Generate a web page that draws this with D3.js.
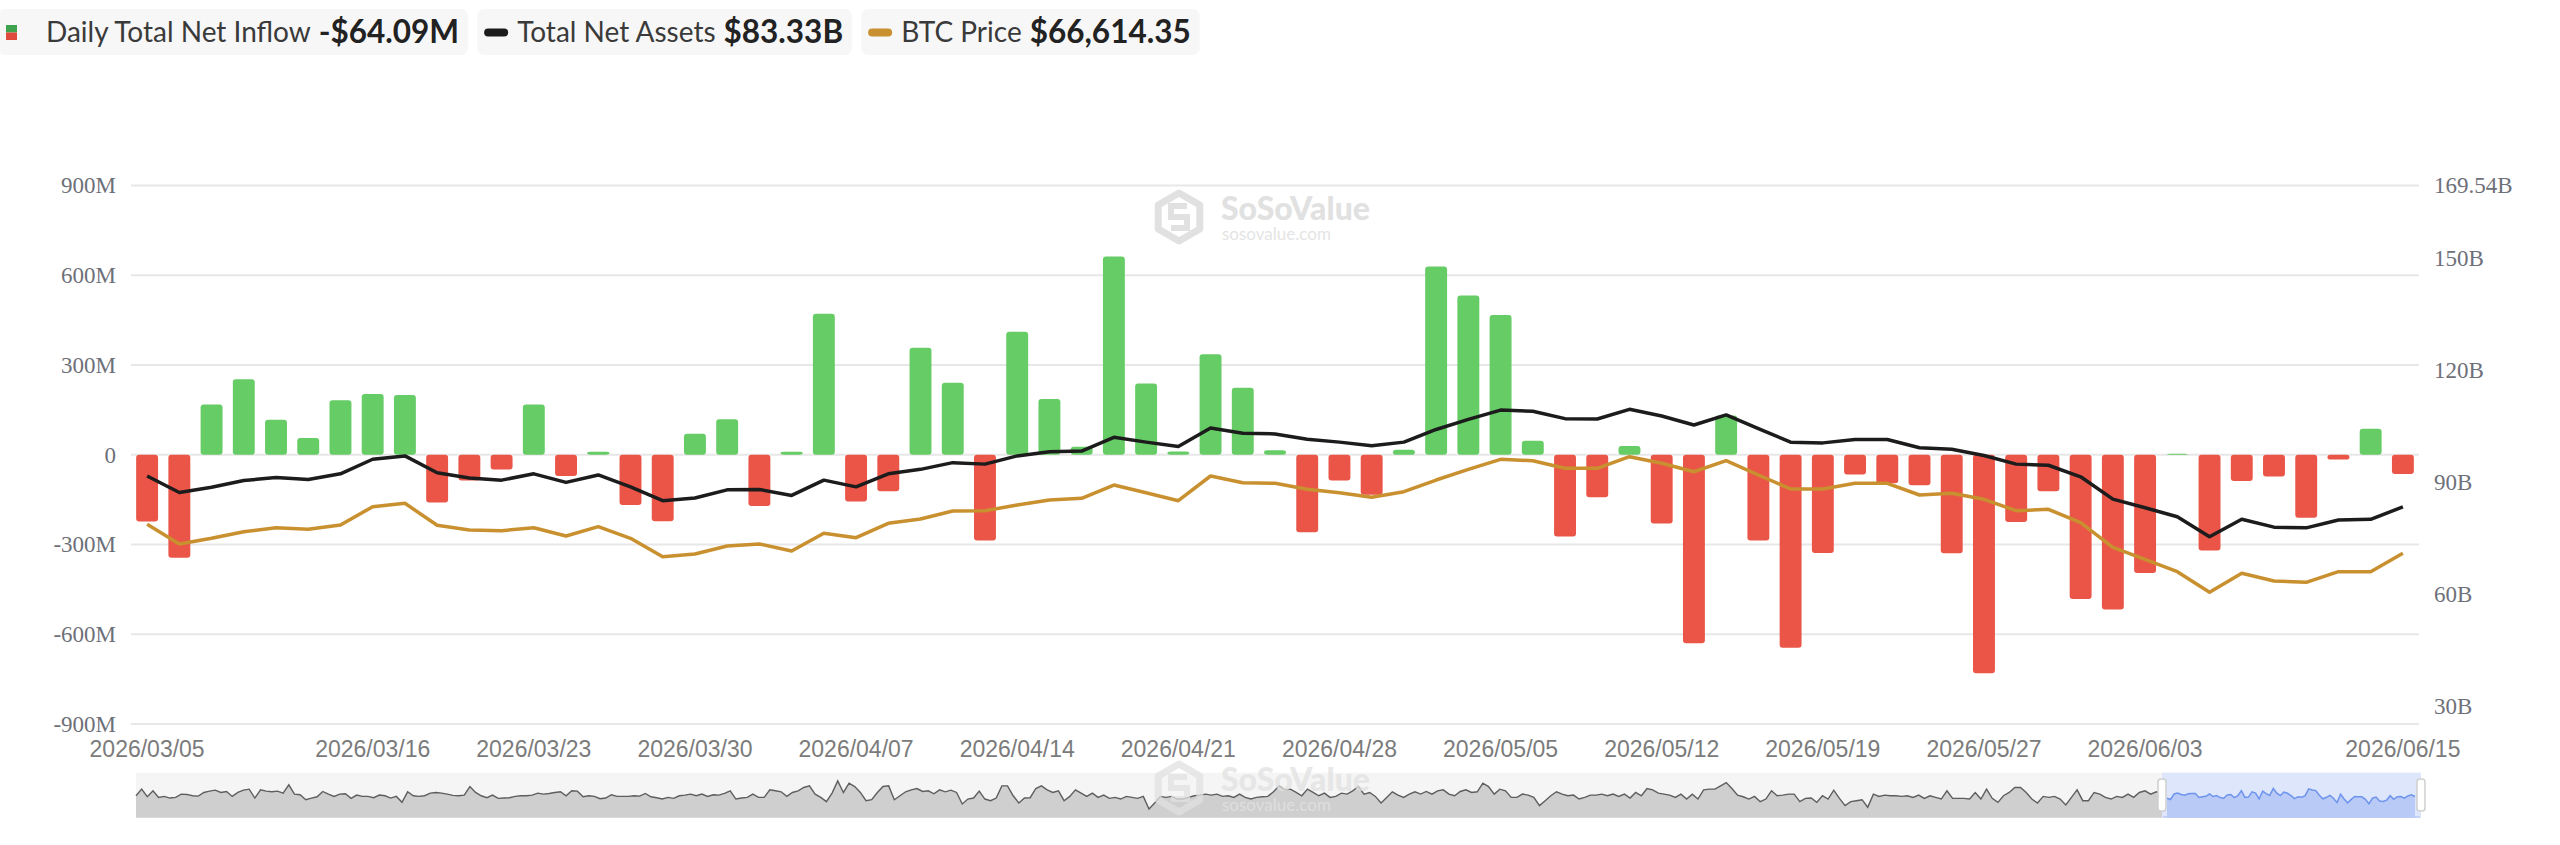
<!DOCTYPE html>
<html>
<head>
<meta charset="utf-8">
<script src="https://cdn.jsdelivr.net/npm/d3@7/dist/d3.min.js"></script>
<style>
html, body { margin: 0; padding: 0; background: #fff; }
svg { display: block; }
</style>
</head>
<body>
<script>
// ---- data ----
var dates = ["2026/03/05","2026/03/06","2026/03/09","2026/03/10","2026/03/11","2026/03/12","2026/03/13","2026/03/16","2026/03/17","2026/03/18",
  "2026/03/19","2026/03/20","2026/03/23","2026/03/24","2026/03/25","2026/03/26","2026/03/27","2026/03/30","2026/03/31","2026/04/01",
  "2026/04/02","2026/04/06","2026/04/07","2026/04/08","2026/04/09","2026/04/10","2026/04/13","2026/04/14","2026/04/15","2026/04/16",
  "2026/04/17","2026/04/20","2026/04/21","2026/04/22","2026/04/23","2026/04/24","2026/04/27","2026/04/28","2026/04/29","2026/04/30",
  "2026/05/01","2026/05/04","2026/05/05","2026/05/06","2026/05/07","2026/05/08","2026/05/11","2026/05/12","2026/05/13","2026/05/14",
  "2026/05/15","2026/05/18","2026/05/19","2026/05/20","2026/05/21","2026/05/22","2026/05/26","2026/05/27","2026/05/28","2026/05/29",
  "2026/06/01","2026/06/02","2026/06/03","2026/06/04","2026/06/05","2026/06/08","2026/06/09","2026/06/10","2026/06/11","2026/06/12",
  "2026/06/15"];

// daily total net inflow, million USD
var netInflow = [-223,-344,168,252,117,56,182,203,200,-160,
  -86,-49,168,-71,10,-168,-222,70,119,-171,
  10,471,-156,-122,358,241,-287,411,186,27,
  663,238,11,336,224,15,-259,-86,-134,17,
  629,532,467,47,-273,-142,29,-230,-630,131,
  -287,-645,-328,-66,-95,-102,-329,-730,-225,-122,
  -482,-517,-395,3,-320,-88,-73,-211,-16,87,
  -64.09];

// total net assets, billion USD
var netAssets = [91.6,87.2,88.6,90.4,91.2,90.7,92.2,96.1,97.0,92.5,
  91.1,90.5,92.2,89.9,91.9,88.7,85.0,85.7,87.9,88.0,
  86.4,90.5,88.7,92.2,93.4,95.2,94.8,97.0,98.1,98.3,
  102.0,100.7,99.5,104.5,103.1,102.9,101.5,100.7,99.7,100.7,
  104.1,106.8,109.3,109.0,107.0,106.9,109.5,107.7,105.3,108.0,
  104.3,100.7,100.5,101.4,101.4,99.2,98.8,97.1,94.8,94.5,
  91.4,85.4,83.1,80.7,75.3,80.0,77.9,77.7,79.8,80.0,
  83.33];

// BTC price, USD
var btcPrice = [72830,68610,69830,71250,72100,71760,72680,76610,77340,72620,
  71610,71460,72100,70320,72320,69830,65880,66460,68180,68610,
  67100,70900,69960,73050,73970,75680,75750,76970,78040,78410,
  81260,79610,77890,83190,81750,81630,80340,79610,78620,79820,
  82330,84630,86770,86470,84840,84840,87330,85920,84110,86470,
  83410,80400,80400,81630,81630,79120,79480,78190,75750,76050,
  73180,67900,65330,62670,58250,62320,60670,60390,62670,62670,
  66614.35];

// earlier net inflow history shown in the range slider, million USD (sampled)
var sliderHistory = [0,600,-90,450,-150,-60,-210,-150,150,120,0,-30,300,420,510,300,390,-60,300,510,600,-210,540,420,360,420,240,990,150,90,
  -360,-210,-90,390,150,-60,150,180,-240,60,-60,-60,-180,60,0,-210,-60,-600,360,0,-60,0,240,300,240,150,30,0,60,840,
  300,0,-180,60,-240,-210,-180,-60,0,0,60,240,150,210,300,360,0,450,420,-90,0,-60,-270,-210,90,-60,-60,-60,0,-30,
  210,-90,-180,-300,-150,-240,0,60,150,0,150,-60,90,60,210,450,-300,-210,-150,150,-150,-150,540,450,360,-60,300,450,750,
  900,150,-150,-540,240,1350,300,1140,840,300,-450,-360,300,840,900,-360,0,360,540,660,390,450,180,540,360,510,300,-750,-300,-210,
  420,-300,-450,-210,900,900,0,-660,-210,-180,660,900,540,300,450,-450,-60,540,240,-60,240,-150,60,-240,-150,-300,-60,-150,-240,-60,
  -1200,-660,-60,-150,-60,-300,-300,-150,0,60,150,60,150,-60,0,-150,150,-150,-300,-150,-90,-60,360,900,540,600,300,0,600,300,
  0,240,-150,-60,240,150,450,840,150,300,-60,-660,-150,360,60,-150,150,360,150,390,150,450,540,150,0,390,540,300,360,1140,
  840,150,600,450,-150,-150,150,60,-150,-900,-450,0,360,150,0,60,-300,-150,60,
  60,150,0,150,-60,150,-210,300,0,660,540,240,150,60,-150,150,-300,150,-300,540,600,600,900,1200,660,60,-90,-300,-60,-540,
  -300,450,0,60,150,150,-540,-240,-210,-600,0,-300,510,-240,-900,-540,-450,-360,-1050,150,-60,60,0,0,-60,0,-150,60,-240,0,
  -150,-300,450,-240,-240,-240,-300,300,-300,600,-240,-600,0,300,750,750,300,-300,-660,-60,-150,-60,-300,-840,-150,540,-450,-450,300,150,
  -150,-300,-60,-150,150,-150,300,450,150,360,240];

var leftTicks = [-900, -600, -300, 0, 300, 600, 900];
var rightTicks = [30, 60, 90, 120, 150, 169.54];
var dateTicks = ["2026/03/05","2026/03/16","2026/03/23","2026/03/30","2026/04/07","2026/04/14","2026/04/21",
  "2026/04/28","2026/05/05","2026/05/12","2026/05/19","2026/05/27","2026/06/03","2026/06/15"];

// ---- layout ----
var W = 2560, H = 845;
var plot = { left: 131, right: 2419, top: 185.5, bottom: 724 };
var green = "#66cc66", red = "#ea5548", black = "#1c1c1c", gold = "#c9902f";
var serif = "'Liberation Serif', 'Times New Roman', serif";
var sans = "'Liberation Sans', Arial, sans-serif";
var lato = "Lato, 'Noto Sans', sans-serif";

var svg = d3.select("body").append("svg").attr("width", W).attr("height", H);

var x = d3.scaleBand().domain(dates).range([plot.left, plot.right]);
var cx = function(d){ return x(d) + x.bandwidth() / 2; };
var barW = x.bandwidth() * 0.68;

var yLeft = d3.scaleLinear().domain([-900, 900]).range([plot.bottom, plot.top]);
var yRight = d3.scaleLinear().domain([25.09, 169.54]).range([plot.bottom, plot.top]);
var yBtc = d3.scaleLinear().domain([30000, 145500]).range([plot.bottom, plot.top]); // hidden axis

// gridlines
svg.append("g").selectAll("line")
  .data(leftTicks)
  .enter()
  .append("line")
  .attr("x1", plot.left).attr("x2", plot.right)
  .attr("y1", function(d){ return yLeft(d); })
  .attr("y2", function(d){ return yLeft(d); })
  .attr("stroke", "#e7e7e7")
  .attr("stroke-width", 2);

// watermark
function watermark(g, x0, y0, op) {
  var w = g.append("g").attr("opacity", op);
  var c = [x0 + 19, y0 + 25], r = 24;
  var hex = d3.range(6).map(function(k){
    var a = (-90 + 60 * k) * Math.PI / 180;
    return [c[0] + r * Math.cos(a), c[1] + r * Math.sin(a)];
  });
  w.append("polygon").attr("points", hex.join(" "))
    .attr("fill", "none").attr("stroke", "#e1e1e1").attr("stroke-width", 7).attr("stroke-linejoin", "round");
  w.append("path")
    .attr("d", "M" + (c[0] + 8) + "," + (c[1] - 11) + " L" + (c[0] - 8) + "," + (c[1] - 11) +
      " L" + (c[0] - 8) + "," + (c[1]) + " L" + (c[0] + 8) + "," + (c[1]) +
      " L" + (c[0] + 8) + "," + (c[1] + 11) + " L" + (c[0] - 8) + "," + (c[1] + 11))
    .attr("fill", "none").attr("stroke", "#e1e1e1").attr("stroke-width", 6);
  w.append("text").attr("x", x0 + 61).attr("y", y0 + 28)
    .attr("font-family", lato).attr("font-weight", 900).attr("font-size", 32)
    .attr("fill", "#e1e1e1").text("SoSoValue");
  w.append("text").attr("x", x0 + 62).attr("y", y0 + 48)
    .attr("font-family", lato).attr("font-size", 17)
    .attr("fill", "#e4e4e4").text("sosovalue.com");
}
watermark(svg, 1160, 192, 1);

// bars
svg.append("g").selectAll("rect")
  .data(netInflow)
  .enter()
  .append("rect")
  .attr("x", function(d, i){ return cx(dates[i]) - barW / 2; })
  .attr("y", function(d){ return yLeft(Math.max(0, d)); })
  .attr("width", barW)
  .attr("height", function(d){ return Math.abs(yLeft(d) - yLeft(0)); })
  .attr("rx", 3)
  .attr("fill", function(d){ return d >= 0 ? green : red; });

// lines
var btcLine = d3.line()
  .x(function(d, i){ return cx(dates[i]); })
  .y(function(d){ return yBtc(d); });
var assetLine = d3.line()
  .x(function(d, i){ return cx(dates[i]); })
  .y(function(d){ return yRight(d); });

svg.append("path").datum(btcPrice)
  .attr("d", btcLine).attr("fill", "none")
  .attr("stroke", gold).attr("stroke-width", 3.5).attr("stroke-linejoin", "round");
svg.append("path").datum(netAssets)
  .attr("d", assetLine).attr("fill", "none")
  .attr("stroke", black).attr("stroke-width", 3.5).attr("stroke-linejoin", "round");

// axes
var leftAxis = svg.append("g")
  .attr("transform", "translate(" + plot.left + ",0)")
  .call(d3.axisLeft(yLeft).tickValues(leftTicks).tickSize(0).tickPadding(15)
    .tickFormat(function(d){ return d === 0 ? "0" : d + "M"; }));
var rightAxis = svg.append("g")
  .attr("transform", "translate(" + plot.right + ",0)")
  .call(d3.axisRight(yRight).tickValues(rightTicks).tickSize(0).tickPadding(15)
    .tickFormat(function(d){ return d + "B"; }));
[leftAxis, rightAxis].forEach(function(a){
  a.select(".domain").remove();
  a.selectAll("text").attr("font-family", serif).attr("font-size", 23).attr("fill", "#6e7079");
});

var bottomAxis = svg.append("g")
  .attr("transform", "translate(0," + plot.bottom + ")")
  .call(d3.axisBottom(x).tickValues(dateTicks).tickSize(0).tickPadding(17));
bottomAxis.select(".domain").remove();
bottomAxis.selectAll("text").attr("font-family", sans).attr("font-size", 23).attr("fill", "#7b7b7b");

// range slider
var slider = { left: 136, right: 2421, top: 772.7, bottom: 817.7, winLeft: 2162 };
var sy = d3.scaleLinear().domain([-2000, 2100]).range([slider.bottom, slider.top]);
var hx = d3.scaleLinear().domain([0, sliderHistory.length - 1]).range([slider.left, slider.winLeft]);
var bx = d3.scaleLinear().domain([0, netInflow.length - 1]).range([slider.winLeft + 5, slider.right - 6]);

svg.append("rect")
  .attr("x", slider.left).attr("y", slider.top)
  .attr("width", slider.right - slider.left).attr("height", slider.bottom - slider.top)
  .attr("fill", "#f5f5f5");

var histArea = d3.area()
  .x(function(d, i){ return hx(i); })
  .y0(slider.bottom)
  .y1(function(d){ return sy(d); });
var histLine = d3.line()
  .x(function(d, i){ return hx(i); })
  .y(function(d){ return sy(d); });
svg.append("path").datum(sliderHistory).attr("d", histArea).attr("fill", "#cfcfcf");
svg.append("path").datum(sliderHistory).attr("d", histLine)
  .attr("fill", "none").attr("stroke", "#5e5e5e").attr("stroke-width", 1.4);

svg.append("rect")
  .attr("x", slider.winLeft).attr("y", slider.top)
  .attr("width", slider.right - slider.winLeft).attr("height", slider.bottom - slider.top)
  .attr("fill", "#dde6fb");

var winArea = d3.area()
  .x(function(d, i){ return bx(i); })
  .y0(slider.bottom)
  .y1(function(d){ return sy(d); });
var winLine = d3.line()
  .x(function(d, i){ return bx(i); })
  .y(function(d){ return sy(d); });
svg.append("path").datum(netInflow).attr("d", winArea).attr("fill", "#b8caf5");
svg.append("path").datum(netInflow).attr("d", winLine)
  .attr("fill", "none").attr("stroke", "#6e94ee").attr("stroke-width", 1.5);
svg.append("rect")
  .attr("x", slider.winLeft + 1).attr("y", slider.bottom - 1.5)
  .attr("width", slider.right - slider.winLeft - 2).attr("height", 1.5)
  .attr("fill", "#b8caf5");

// handles
svg.append("g").selectAll("rect")
  .data([slider.winLeft, slider.right])
  .enter()
  .append("rect")
  .attr("x", function(d){ return d - 4; })
  .attr("y", 779)
  .attr("width", 8)
  .attr("height", 32)
  .attr("rx", 3)
  .attr("fill", "#fff")
  .attr("stroke", "#cfcfcf")
  .attr("stroke-width", 1.5);

watermark(svg, 1160, 763, 0.75);

// legend
var fmt2 = d3.format(",.2f");
var lastInflow = netInflow[netInflow.length - 1];
var legendItems = [
  { label: "Daily Total Net Inflow", value: (lastInflow < 0 ? "-$" : "$") + fmt2(Math.abs(lastInflow)) + "M", icon: "split" },
  { label: "Total Net Assets", value: "$" + fmt2(netAssets[netAssets.length - 1]) + "B", icon: black },
  { label: "BTC Price", value: "$" + fmt2(btcPrice[btcPrice.length - 1]), icon: gold }
];

var legend = svg.append("g");
var cursor = -2;
legendItems.forEach(function(item, k){
  var g = legend.append("g");
  var box = g.append("rect").attr("x", cursor).attr("y", 9).attr("height", 46).attr("rx", 7).attr("fill", "#f7f7f7");
  var labelX;
  if (item.icon === "split") {
    g.append("rect").attr("x", cursor + 8).attr("y", 25).attr("width", 11).attr("height", 7.5).attr("fill", "#3fa34d");
    g.append("rect").attr("x", cursor + 8).attr("y", 32.5).attr("width", 11).attr("height", 7.5).attr("fill", "#e04a3c");
    labelX = cursor + 48;
  } else {
    g.append("rect").attr("x", cursor + 7).attr("y", 28.5).attr("width", 24).attr("height", 8).attr("rx", 4).attr("fill", item.icon);
    labelX = cursor + 40;
  }
  var label = g.append("text").attr("x", labelX).attr("y", 42)
    .attr("font-family", lato).attr("font-size", 28).attr("fill", "#3a3a3a").text(item.label);
  var valueX = labelX + label.node().getComputedTextLength() + 8;
  var value = g.append("text").attr("x", valueX).attr("y", 43)
    .attr("font-family", lato).attr("font-weight", 700).attr("font-size", 31.5).attr("fill", "#222").text(item.value);
  var end = valueX + value.node().getComputedTextLength() + 9;
  box.attr("width", end - cursor);
  cursor = end + 9;
});
</script>
</body>
</html>
